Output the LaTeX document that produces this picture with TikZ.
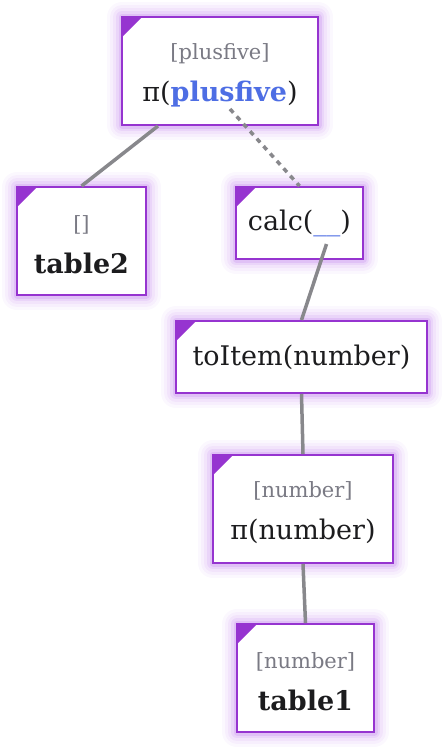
\documentclass[tikz,border=0pt]{standalone}
\usepackage{fontspec}
\usepackage{xcolor}
\usetikzlibrary{calc}
\setmainfont{DejaVu Serif}
\definecolor{boxpurple}{RGB}{150,52,208}
\definecolor{glowpurple}{RGB}{165,75,230}
\definecolor{subgray}{RGB}{122,122,132}
\definecolor{inkblack}{RGB}{28,28,30}
\definecolor{argblue}{RGB}{78,110,228}
\definecolor{linkgray}{RGB}{136,136,140}
\newcommand{\subtxt}[1]{{\color{subgray}\fontsize{21}{24}\selectfont\rule{0pt}{24pt}#1}}

\begin{document}
\begin{tikzpicture}[x=1pt,y=-1pt,
  opbox/.style={draw=boxpurple, line width=2pt, fill=white, inner sep=0pt,
    align=center, text=inkblack, font=\fontsize{27}{42}\selectfont,
    preaction={draw=glowpurple, line join=round, line width=30pt, opacity=.04},
    preaction={draw=glowpurple, line join=round, line width=24pt, opacity=.05},
    preaction={draw=glowpurple, line join=round, line width=18pt, opacity=.07},
    preaction={draw=glowpurple, line join=round, line width=12pt, opacity=.10},
    preaction={draw=glowpurple, line join=round, line width=7pt, opacity=.14},
    path picture={\fill[boxpurple] (path picture bounding box.north west)
      -- ++(20pt,0pt) -- ++(-20pt,-20pt) -- cycle;}},
  link/.style={draw=linkgray, line width=3.5pt},
  dotlink/.style={link, dash pattern=on 5pt off 5pt}]
\useasboundingbox (0,0) rectangle (444,750);

% Operator boxes
\node[opbox, minimum width=196, minimum height=108] (pf) at (220,71)
  {\subtxt{[plusfive]}\\π({\color{argblue}\bfseries plusfive})};
\node[opbox, minimum width=129, minimum height=108] (t2) at (81.5,241)
  {\subtxt{[]}\\\bfseries table2};
\node[opbox, minimum width=127, minimum height=72] (calc) at (299.5,223)
  {calc({\color{argblue}\_\_})};
\node[opbox, minimum width=251, minimum height=72] (item) at (301.5,357)
  {toItem(number)};
\node[opbox, minimum width=180, minimum height=108] (pn) at (303,509)
  {\subtxt{[number]}\\π(number)};
\node[opbox, minimum width=137, minimum height=108] (t1) at (305.5,678)
  {\subtxt{[number]}\\\bfseries table1};

% Links
\draw[link] ($(pf.south)+(-62,0)$) -- (t2.north);
\draw[dotlink] ($(pf.south)+(10,-17)$) -- (calc.north);
\draw[link] ($(calc.south)+(27,-16)$) -- (item.north);
\draw[link] (item.south) -- (pn.north);
\draw[link] (pn.south) -- (t1.north);
\end{tikzpicture}
\end{document}
